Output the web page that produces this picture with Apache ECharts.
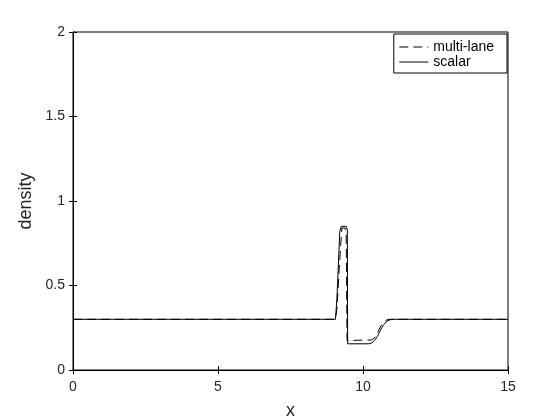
<!DOCTYPE html>
<html>
<head>
<meta charset="utf-8">
<script src="https://cdn.jsdelivr.net/npm/echarts@6/dist/echarts.min.js"></script>
<style>
  html, body { margin: 0; padding: 0; background: #fff; }
  #chart { width: 560px; height: 420px; }
</style>
</head>
<body>
<div id="chart"></div>
<script>
// multi-lane (dashed)
var multiX = [0, 9.05, 9.1, 9.2, 9.27, 9.38, 9.42, 9.45, 9.6, 10.3, 10.4, 10.5, 10.6, 10.7, 10.8, 10.9, 15];
var multiY = [0.3, 0.3, 0.36, 0.66, 0.84, 0.84, 0.8, 0.175, 0.175, 0.178, 0.19, 0.22, 0.255, 0.28, 0.295, 0.3, 0.3];
// scalar (solid)
var scalarX = [0, 9.05, 9.1, 9.2, 9.25, 9.42, 9.46, 9.47, 10.2, 10.3, 10.4, 10.5, 10.6, 10.7, 10.8, 10.9, 11.0, 11.1, 15];
var scalarY = [0.3, 0.3, 0.42, 0.82, 0.85, 0.85, 0.83, 0.155, 0.155, 0.16, 0.175, 0.2, 0.235, 0.265, 0.285, 0.295, 0.3, 0.3, 0.3];

function pairs(xs, ys) {
    return xs.map(function (x, i) { return [x, ys[i]]; });
}

var font = 'Liberation Sans, Arial, sans-serif';
function tick() {
    return { show: true, inside: true, length: 4, lineStyle: { color: '#000', width: 1 } };
}
var box = { left: 73, right: 52, top: 32, bottom: 50, outerBoundsMode: 'none' };
var myChart = echarts.init(document.getElementById('chart'));

var option = {
    animation: false,
    backgroundColor: '#fff',
    grid: [
        Object.assign({ show: true, borderColor: '#000', borderWidth: 1 }, box),
        Object.assign({}, box)   // second grid only carries the top/right ticks
    ],
    legend: {
        orient: 'vertical',
        right: 53, top: 34,
        data: ['multi-lane', 'scalar'],
        itemWidth: 29, itemHeight: 10, itemGap: 1,
        itemStyle: { opacity: 0 },
        lineStyle: { width: 1 },
        borderColor: '#000', borderWidth: 1,
        backgroundColor: '#fff',
        padding: [6, 13, 4, 5],
        textStyle: { fontFamily: font, fontSize: 14, color: '#000' }
    },
    xAxis: [{
        gridIndex: 0, type: 'value', min: 0, max: 15, interval: 5,
        name: 'x', nameLocation: 'middle', nameGap: 32,
        nameTextStyle: { fontFamily: font, fontSize: 18, color: '#262626' },
        axisLine: { lineStyle: { color: '#000' } },
        axisTick: tick(),
        axisLabel: { fontFamily: font, fontSize: 14, color: '#262626', margin: 10 },
        splitLine: { show: false }
    }, {
        gridIndex: 1, type: 'value', min: 0, max: 15, interval: 5, position: 'top',
        axisLine: { show: true, lineStyle: { color: '#000' } },
        axisTick: tick(),
        axisLabel: { show: false },
        splitLine: { show: false }
    }],
    yAxis: [{
        gridIndex: 0, type: 'value', min: 0, max: 2, interval: 0.5,
        name: 'density', nameLocation: 'middle', nameGap: 31,
        nameTextStyle: { fontFamily: font, fontSize: 18, color: '#262626' },
        axisLine: { show: true, lineStyle: { color: '#000' } },
        axisTick: tick(),
        axisLabel: { fontFamily: font, fontSize: 14, color: '#262626', margin: 8 },
        splitLine: { show: false }
    }, {
        gridIndex: 1, type: 'value', min: 0, max: 2, interval: 0.5, position: 'right',
        axisLine: { show: true, lineStyle: { color: '#000' } },
        axisTick: tick(),
        axisLabel: { show: false },
        splitLine: { show: false }
    }],
    series: [{
        name: 'multi-lane', type: 'line', symbol: 'none',
        xAxisIndex: 0, yAxisIndex: 0,
        data: pairs(multiX, multiY),
        lineStyle: { color: '#000', width: 1, type: [9, 5] },
        itemStyle: { color: '#000' }
    }, {
        name: 'scalar', type: 'line', symbol: 'none',
        xAxisIndex: 0, yAxisIndex: 0,
        data: pairs(scalarX, scalarY),
        lineStyle: { color: '#000', width: 1 },
        itemStyle: { color: '#000' }
    }]
};

myChart.setOption(option);
</script>
</body>
</html>
